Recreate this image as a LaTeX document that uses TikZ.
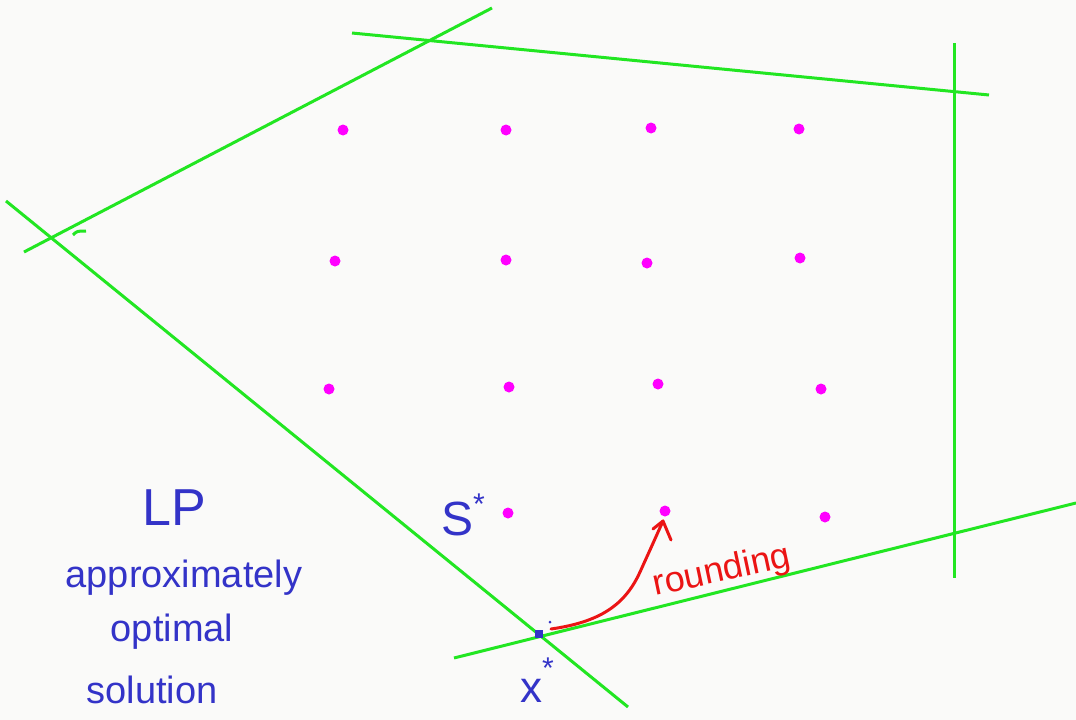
\documentclass[tikz,border=0pt]{standalone}
\usepackage{fontspec}
\setmainfont{Liberation Sans}
\begin{document}
\begin{tikzpicture}[x=1pt,y=-1pt]
\definecolor{bg}{rgb}{0.98,0.98,0.975}
\definecolor{gline}{RGB}{34,230,34}
\definecolor{bink}{RGB}{51,51,200}
\definecolor{rink}{RGB}{235,20,20}
\definecolor{mag}{RGB}{255,0,255}
\tikzset{bound/.style={draw=gline, line width=3pt},
  pt/.style={circle, fill=mag, inner sep=0pt, minimum size=11pt},
  hand/.style={text=bink, inner sep=0pt},
  redhand/.style={text=rink, inner sep=0pt}}
\fill[bg] (0,0) rectangle (1076,720);
\useasboundingbox (0,0) rectangle (1076,720);
% constraint lines
\coordinate (a1) at (24,252); \coordinate (a2) at (492,8);
\coordinate (b1) at (352,33); \coordinate (b2) at (989,95);
\coordinate (c1) at (954,43); \coordinate (c2) at (954,578);
\coordinate (d1) at (454,658); \coordinate (d2) at (1076,503);
\coordinate (e1) at (6,201); \coordinate (e2) at (628,707);
\draw[bound] (a1) -- (a2);
\draw[bound] (b1) -- (b2);
\draw[bound] (c1) -- (c2);
\draw[bound] (d1) -- (d2);
\draw[bound] (e1) -- (e2);
\coordinate (t1) at (73,235); \coordinate (t2) at (86,231);
\draw[bound] (t1) .. controls (77,231) .. (t2);
% integer points
\foreach \n/\x/\y in {p11/343/130,p12/506/130,p13/651/128,p14/799/129,
  p21/335/261,p22/506/260,p23/647/263,p24/800/258,
  p31/329/389,p32/509/387,p33/658/384,p34/821/389,
  p42/508/513,p43/665/511,p44/825/517}
  \node[pt] (\n) at (\x,\y) {};
% x* marker
\node[fill=bink, minimum size=8pt, inner sep=0pt] (xs) at (539,634) {};
\node[fill=bink, circle, minimum size=3pt, inner sep=0pt] (dotb) at (550,622) {};
% rounding arrow
\coordinate (rs) at (551,629);
\coordinate (rt) at (663,521);
\coordinate (rb1) at (653,529);
\coordinate (rb2) at (671,540);
\draw[rink, line width=3pt, line cap=round, line join=round]
  (rs) .. controls (600,622) and (625,605) .. (640,572) .. controls (650,550) .. (rt);
\draw[rink, line width=3pt, line cap=round, line join=round] (rb1) -- (rt) -- (rb2);
% labels
\node[hand, font=\fontsize{52}{52}\selectfont] (lp) at (174,508) {LP};
\node[hand, font=\fontsize{38}{38}\selectfont] (appr) at (184,578) {approximately};
\node[hand, font=\fontsize{38}{38}\selectfont] (opt) at (172,632) {optimal};
\node[hand, font=\fontsize{38}{38}\selectfont] (sol) at (152,690) {solution};
\node[hand, font=\fontsize{48}{48}\selectfont] (S) at (463,515) {S\raisebox{0.45em}{\fontsize{30}{30}\selectfont *}};
\node[hand, font=\fontsize{44}{44}\selectfont] (X) at (537,680) {x\raisebox{0.55em}{\fontsize{30}{30}\selectfont *}};
\node[redhand, font=\fontsize{36}{36}\selectfont, rotate=12] (rnd) at (722,572) {rounding};
\end{tikzpicture}
\end{document}
